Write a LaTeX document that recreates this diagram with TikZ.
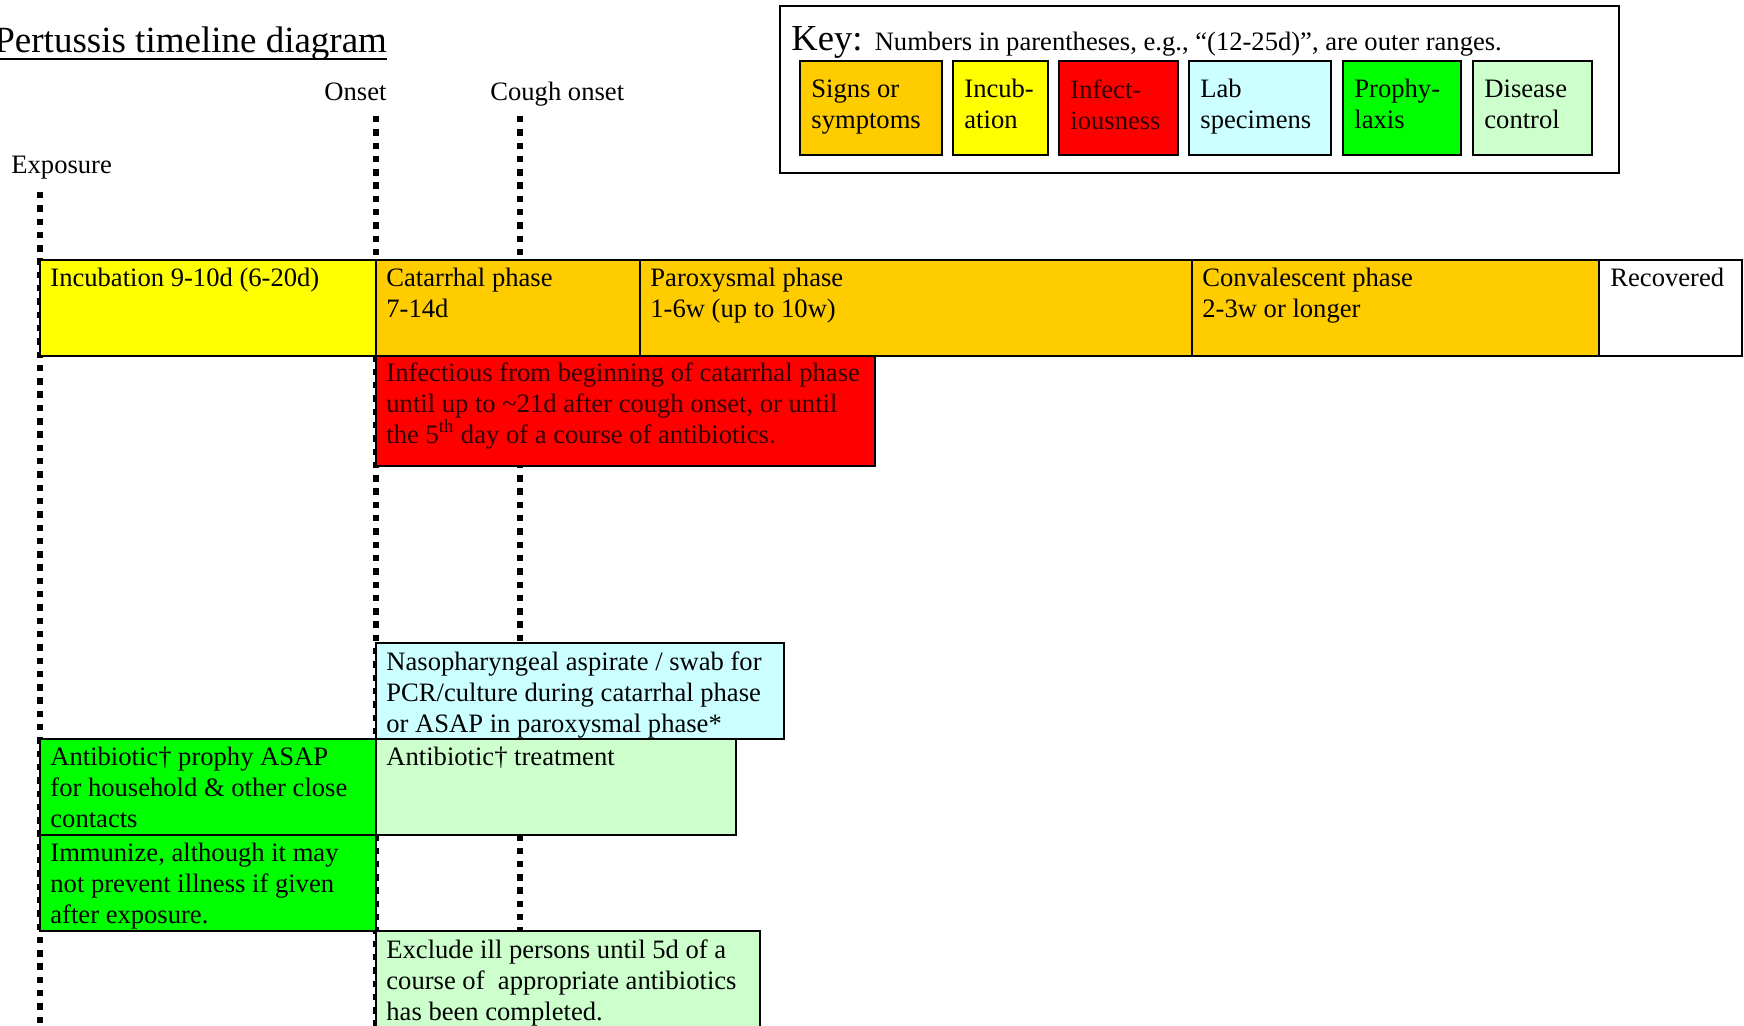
\documentclass[tikz,border=0pt]{standalone}
\usepackage{fontspec}
\setmainfont{Liberation Serif}
\usetikzlibrary{fit}
\definecolor{signs}{HTML}{FFCC00}
\definecolor{incub}{HTML}{FFFF00}
\definecolor{infect}{HTML}{FF0000}
\definecolor{labc}{HTML}{CCFFFF}
\definecolor{prophy}{HTML}{00FF00}
\definecolor{control}{HTML}{CCFFCC}
\definecolor{darkredtxt}{HTML}{330000}
\newcommand{\cellbox}[6]{% name, fill style, corner1, corner2, text offset, text
  \node[cell,#2,fit={#3 #4}] (#1) {};
  \node[body,#2] (#1-t) at ([shift={#5}]#1.north west) {#6};}
\begin{document}
\begin{tikzpicture}[x=0.5pt,y=-0.5pt,
  cell/.style={draw=black, line width=1.3pt, inner sep=0pt, outer sep=0pt},
  body/.style={font=\fontsize{13.3}{15.5}\selectfont, align=left, inner sep=0pt, anchor=north west, fill=none, draw=none},
  lbl/.style={font=\fontsize{13.3}{15.5}\selectfont, inner sep=0pt, anchor=base west},
  timeline/.style={line width=3.2pt, dash pattern=on 3.2pt off 3.45pt},
  fSigns/.style={fill=signs},
  fIncub/.style={fill=incub},
  fInfect/.style={fill=infect, text=darkredtxt},
  fLab/.style={fill=labc},
  fProphy/.style={fill=prophy},
  fControl/.style={fill=control},
  fWhite/.style={fill=white},
]
\useasboundingbox (0,0) rectangle (1744,1026);

% title
\node[anchor=base west, inner sep=0pt, font=\fontsize{18.5}{22}\selectfont] (title) at (-6,53) {Pertussis timeline diagram};
\draw[line width=1pt] ([yshift=-3pt]title.base west) -- ([yshift=-3pt]title.base east);

% event labels
\node[lbl] (onset) at (324,101) {Onset};
\node[lbl] (cough) at (490,101) {Cough onset};
\node[lbl] (exposure) at (11,174) {Exposure};

% dotted time lines
\coordinate (expTop) at (40,192);
\coordinate (expBot) at (40,1040);
\coordinate (onTop) at (376,116);
\coordinate (onBot) at (376,1040);
\coordinate (coTop) at (520,116);
\coordinate (coBot) at (520,1040);
\draw[timeline] (expTop) -- (expBot);
\draw[timeline] (onTop) -- (onBot);
\draw[timeline] (coTop) -- (coBot);

% key
\node[draw=black, line width=1.3pt, inner sep=0pt, fit={(780,6) (1619,173)}] (key) {};
\node[lbl] (keytxt) at (791,51) {{\fontsize{18.3}{22}\selectfont Key: }Numbers in parentheses, e.g., “(12-25d)”, are outer ranges.};
\cellbox{kSigns}{fSigns}{(800,61)}{(942,155)}{(5.5pt,-9pt)}{Signs or\\symptoms}
\cellbox{kIncub}{fIncub}{(953,61)}{(1048,155)}{(5.5pt,-9pt)}{Incub-\\ation}
\cellbox{kInfect}{fInfect}{(1059,61)}{(1178,155)}{(5.5pt,-9pt)}{Infect-\\iousness}
\cellbox{kLab}{fLab}{(1189,61)}{(1331,155)}{(5.5pt,-9pt)}{Lab\\specimens}
\cellbox{kProphy}{fProphy}{(1343,61)}{(1461,155)}{(5.5pt,-9pt)}{Prophy-\\laxis}
\cellbox{kControl}{fControl}{(1473,61)}{(1592,155)}{(5.5pt,-9pt)}{Disease\\control}

% main timeline bar
\cellbox{inc}{fIncub}{(40,260)}{(376,356)}{(5pt,-4pt)}{Incubation 9-10d (6-20d)}
\cellbox{cat}{fSigns}{(376,260)}{(640,356)}{(5pt,-4pt)}{Catarrhal phase\\7-14d}
\cellbox{par}{fSigns}{(640,260)}{(1192,356)}{(5pt,-4pt)}{Paroxysmal phase\\1-6w (up to 10w)}
\cellbox{con}{fSigns}{(1192,260)}{(1599,356)}{(5pt,-4pt)}{Convalescent phase\\2-3w or longer}
\cellbox{rec}{fWhite}{(1599,260)}{(1742,356)}{(5.5pt,-4pt)}{Recovered}

% other boxes
\cellbox{inf}{fInfect}{(376,356)}{(875,466)}{(5pt,-3pt)}{Infectious from beginning of catarrhal phase\\until up to \textasciitilde21d after cough onset, or until\\the 5\textsuperscript{th} day of a course of antibiotics.}
\cellbox{lab}{fLab}{(376,643)}{(784,739)}{(5pt,-4pt)}{Nasopharyngeal aspirate / swab for\\PCR/culture during catarrhal phase\\or ASAP in paroxysmal phase*}
\cellbox{pro}{fProphy}{(40,739)}{(376,835)}{(5pt,-4pt)}{Antibiotic† prophy ASAP\\for household \& other close\\contacts}
\cellbox{trt}{fControl}{(376,739)}{(736,835)}{(5pt,-4pt)}{Antibiotic† treatment}
\cellbox{imm}{fProphy}{(40,835)}{(376,931)}{(5pt,-4pt)}{Immunize, although it may\\not prevent illness if given\\after exposure.}
\cellbox{exc}{fControl}{(376,931)}{(760,1045)}{(5pt,-4pt)}{Exclude ill persons until 5d of a\\course of\ \ appropriate antibiotics\\has been completed.}
\end{tikzpicture}
\end{document}
